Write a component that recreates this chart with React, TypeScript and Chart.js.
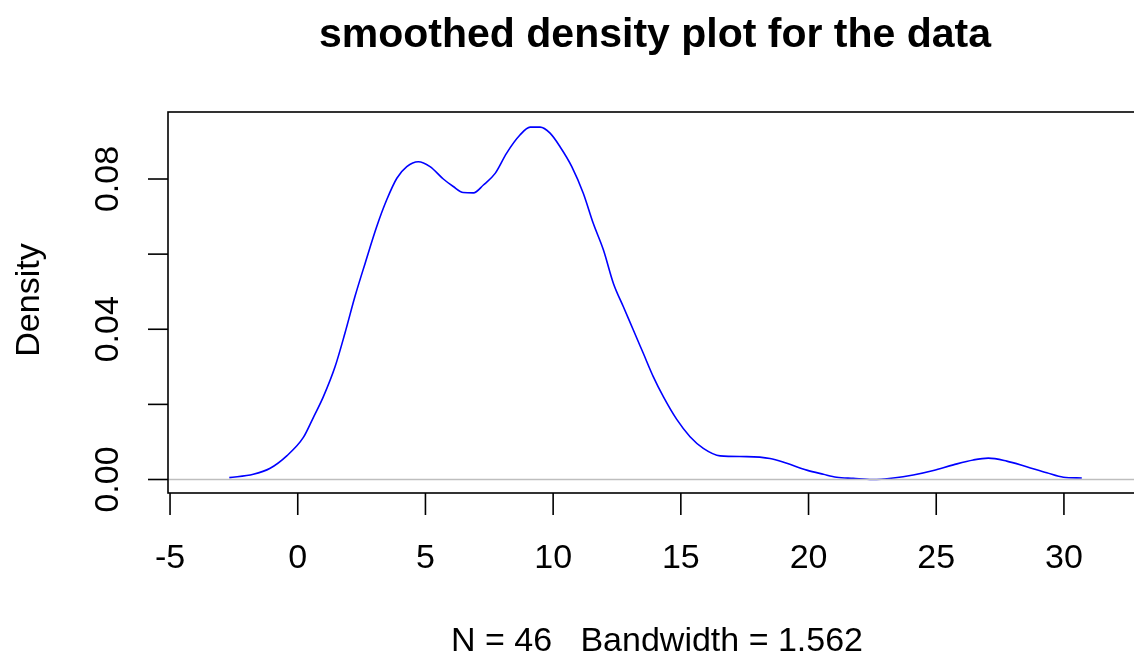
import React, { useEffect, useRef } from "react";
import { Chart, registerables } from "chart.js";

Chart.register(...registerables);

const xValues = [
  -2.68, -1.74, -1.08, -0.43, 0.22, 0.61, 1.0, 1.46, 1.85, 2.24, 2.64, 3.09, 3.48, 3.88, 4.27, 4.72,
  5.18, 5.7, 6.09, 6.48, 6.88, 7.27, 7.73, 8.18, 8.7, 9.1, 9.49, 9.88, 10.27, 10.73, 11.18, 11.57,
  11.97, 12.36, 12.75, 13.14, 13.53, 13.92, 14.32, 14.84, 15.36, 15.88, 16.54, 17.58, 18.49, 19.15,
  19.93, 20.58, 21.1, 21.75, 22.5, 23.32, 24.1, 24.89, 25.67, 26.45, 27.04, 27.76, 28.54, 29.33,
  29.98, 30.7,
];
const densityValues = [
  0.0005, 0.0014, 0.003, 0.0063, 0.0112, 0.0165, 0.022, 0.03, 0.039, 0.0487, 0.0576, 0.0673, 0.0744,
  0.0802, 0.0833, 0.0846, 0.0833, 0.08, 0.078, 0.0764, 0.0763, 0.0784, 0.0815, 0.0869, 0.0917, 0.0938,
  0.0938, 0.0922, 0.0886, 0.0833, 0.0762, 0.0682, 0.0611, 0.0522, 0.046, 0.0398, 0.0336, 0.0274, 0.022,
  0.016, 0.0114, 0.0083, 0.0063, 0.0061, 0.0056, 0.0043, 0.0025, 0.0014, 0.0006, 0.0003, 0.0, 0.0004,
  0.0012, 0.0024, 0.0039, 0.0052, 0.0057, 0.0049, 0.0034, 0.0018, 0.0006, 0.0004,
];
const xTicks = [-5, 0, 5, 10, 15, 20, 25, 30];
const yTicks = [0, 0.02, 0.04, 0.06, 0.08];
const yTickLabels = ["0.00", "", "0.04", "", "0.08"];
const titleText = "smoothed density plot for the data";
const xLabelText = "N = 46   Bandwidth = 1.562";
const yLabelText = "Density";

const FONT = "'Liberation Sans', Arial, sans-serif";

const rAxesPlugin = {
  id: "rAxes",
  afterDatasetsDraw(chart: any) {
    const ctx = chart.ctx;
    const area = chart.chartArea;
    const xs = chart.scales.x;
    const ys = chart.scales.y;
    ctx.save();
    // zero line (drawn over the curve, as R does)
    ctx.strokeStyle = "#BEBEBE";
    ctx.lineWidth = 1.6;
    const y0 = ys.getPixelForValue(0);
    ctx.beginPath();
    ctx.moveTo(area.left, y0);
    ctx.lineTo(area.right, y0);
    ctx.stroke();
    // box
    ctx.strokeStyle = "#000";
    ctx.lineWidth = 1.6;
    ctx.strokeRect(area.left, area.top, area.right - area.left, area.bottom - area.top);
    // x ticks
    ctx.fillStyle = "#000";
    ctx.font = `34px ${FONT}`;
    ctx.textAlign = "center";
    ctx.textBaseline = "alphabetic";
    xTicks.forEach((v) => {
      const px = xs.getPixelForValue(v);
      ctx.beginPath();
      ctx.moveTo(px, area.bottom);
      ctx.lineTo(px, area.bottom + 22);
      ctx.stroke();
      ctx.fillText(String(v), px, 568);
    });
    // y ticks
    yTicks.forEach((v, i) => {
      const py = ys.getPixelForValue(v);
      ctx.beginPath();
      ctx.moveTo(area.left, py);
      ctx.lineTo(area.left - 20, py);
      ctx.stroke();
      if (yTickLabels[i]) {
        ctx.save();
        ctx.translate(118, py);
        ctx.rotate(-Math.PI / 2);
        ctx.fillText(yTickLabels[i], 0, 0);
        ctx.restore();
      }
    });
    // y label
    ctx.save();
    ctx.translate(39, 300);
    ctx.rotate(-Math.PI / 2);
    ctx.fillText(yLabelText, 0, 0);
    ctx.restore();
    // x label
    ctx.fillText(xLabelText, 657, 651);
    // title
    ctx.font = `bold 41px ${FONT}`;
    ctx.fillText(titleText, 655, 47);
    ctx.restore();
  },
};

export default function App() {
  const canvasRef = useRef<HTMLCanvasElement | null>(null);
  useEffect(() => {
    if (!canvasRef.current) return;
    const points = xValues.map((x, i) => ({ x, y: densityValues[i] }));
    const chart = new Chart(canvasRef.current, {
      type: "line",
      data: {
        datasets: [
          {
            data: points,
            borderColor: "#0000FF",
            borderWidth: 1.6,
            pointRadius: 0,
            fill: false,
            cubicInterpolationMode: "monotone",
          },
        ],
      },
      options: {
        responsive: false,
        animation: false,
        events: [],
        layout: { padding: { left: 168, top: 112, right: 30, bottom: 165 } },
        plugins: { legend: { display: false }, tooltip: { enabled: false }, title: { display: false } },
        scales: {
          x: { type: "linear", min: -5.08, max: 33.37, display: false },
          y: { type: "linear", min: -0.003594, max: 0.09784, display: false },
        },
      },
      plugins: [rAxesPlugin],
    });
    return () => chart.destroy();
  }, []);
  return (
    <div style={{ position: "fixed", left: 0, top: 0, width: 1134, height: 658, overflow: "hidden", background: "#fff" }}>
      <canvas ref={canvasRef} width={1180} height={658} style={{ width: 1180, height: 658, display: "block" }} />
    </div>
  );
}
